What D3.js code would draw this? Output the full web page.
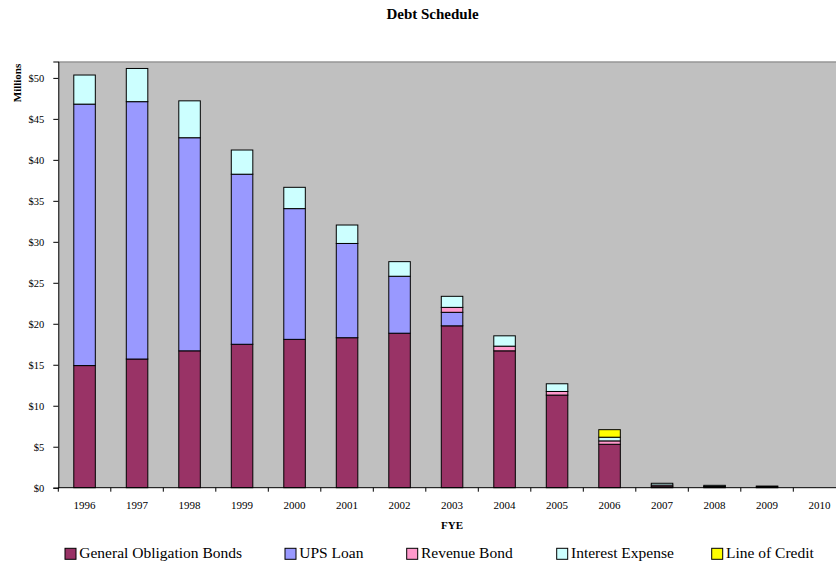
<!DOCTYPE html>
<html><head><meta charset="utf-8">
<script src="https://cdn.jsdelivr.net/npm/d3@7"></script>
<style>
body{margin:0;background:#fff;}
svg{display:block;font-family:"Liberation Serif","Times New Roman",serif;}
</style></head>
<body>
<svg id="c" width="836" height="561"></svg>
<script>
const years = ["1996","1997","1998","1999","2000","2001","2002","2003","2004","2005","2006","2007","2008","2009","2010"];
const seriesNames = ["General Obligation Bonds","UPS Loan","Revenue Bond","Interest Expense","Line of Credit"];
const generalObligation = [14.9,15.7,16.7,17.5,18.1,18.3,18.85,19.75,16.7,11.3,5.3,0.12,0.1,0.08,0];
const upsLoan          = [31.9,31.4,26.0,20.75,15.95,11.5,6.95,1.65,0,0,0,0,0,0,0];
const revenueBond      = [0,0,0,0,0,0,0,0.6,0.57,0.44,0.41,0.2,0.05,0,0];
const interestExpense  = [3.55,4.05,4.5,2.95,2.6,2.25,1.78,1.35,1.26,0.94,0.45,0.22,0.14,0.12,0];
const lineOfCredit     = [0,0,0,0,0,0,0,0,0,0,0.92,0,0,0,0];
const yTicks = [0,5,10,15,20,25,30,35,40,45,50];
const colors = ["#993366","#9999FF","#FF99CC","#CCFFFF","#FFFF00"];

const rows = years.map((y,i)=>({year:y,
  [seriesNames[0]]:generalObligation[i],
  [seriesNames[1]]:upsLoan[i],
  [seriesNames[2]]:revenueBond[i],
  [seriesNames[3]]:interestExpense[i],
  [seriesNames[4]]:lineOfCredit[i]}));

const svg = d3.select("#c");
const pL = 58.3, pR = 845.8, pT = 61.5, pB = 487.7;

const x = d3.scaleBand().domain(years).range([pL,pR]).paddingInner(0.59).paddingOuter(0.295);
const y = d3.scaleLinear().domain([0,52]).range([pB,pT]);

// plot background
svg.append("rect").attr("x",pL).attr("y",pT).attr("width",pR-pL).attr("height",pB-pT)
  .attr("fill","#C0C0C0");
svg.append("line").attr("x1",pL).attr("x2",pR).attr("y1",pT+0.5).attr("y2",pT+0.5)
  .attr("stroke","#808080").attr("stroke-width",1);

// bars
const stack = d3.stack().keys(seriesNames)(rows);
const g = svg.append("g");
stack.forEach((layer,k)=>{
  g.selectAll(null).data(layer.filter(d=>d[1]-d[0]>0)).enter().append("rect")
    .attr("x",d=>x(d.data.year))
    .attr("width",x.bandwidth())
    .attr("y",d=>y(d[1]))
    .attr("height",d=>y(d[0])-y(d[1]))
    .attr("fill",colors[k])
    .attr("stroke","#000").attr("stroke-width",1);
});

// y axis
const ya = svg.append("g").attr("transform",`translate(${pL},0)`)
  .call(d3.axisLeft(y).tickValues(yTicks).tickSize(5).tickPadding(9).tickFormat(d=>"$"+d));
ya.select(".domain").attr("stroke","#000");
ya.selectAll("text").attr("font-size","10.5px").attr("fill","#000").attr("font-family","Liberation Serif");

// x axis
const half = (x.step()-x.bandwidth())/2;
const bounds = years.map(d=>x(d)-half).concat([x(years[years.length-1])+x.bandwidth()+half]);
svg.append("line").attr("x1",pL).attr("x2",pR).attr("y1",pB).attr("y2",pB).attr("stroke","#000");
svg.selectAll(".xt").data(bounds).enter().append("line")
  .attr("x1",d=>d).attr("x2",d=>d).attr("y1",pB).attr("y2",pB+4).attr("stroke","#000");
svg.selectAll(".xl").data(years).enter().append("text")
  .attr("x",d=>x(d)+x.bandwidth()/2).attr("y",509).attr("text-anchor","middle")
  .attr("font-size","11px").text(d=>d);

// titles
svg.append("text").attr("x",432.5).attr("y",19).attr("text-anchor","middle")
  .attr("font-weight","bold").attr("font-size","15px").text("Debt Schedule");
svg.append("text").attr("x",452).attr("y",529).attr("text-anchor","middle")
  .attr("font-weight","bold").attr("font-size","11px").text("FYE");
svg.append("text").attr("transform","translate(20.5,83) rotate(-90)").attr("text-anchor","middle")
  .attr("font-weight","bold").attr("font-size","11px").text("Millions");

// legend
const legX = [65,285,406.7,556.7,711.7];
const lg = svg.selectAll(".lg").data(seriesNames).enter().append("g")
  .attr("transform",(d,i)=>`translate(${legX[i]},548.3)`);
lg.append("rect").attr("width",11).attr("height",11).attr("fill",(d,i)=>colors[i])
  .attr("stroke","#000").attr("stroke-width",1);
lg.append("text").attr("x",14.3).attr("y",10).attr("font-size","15.5px").text(d=>d);
</script>
</body></html>
